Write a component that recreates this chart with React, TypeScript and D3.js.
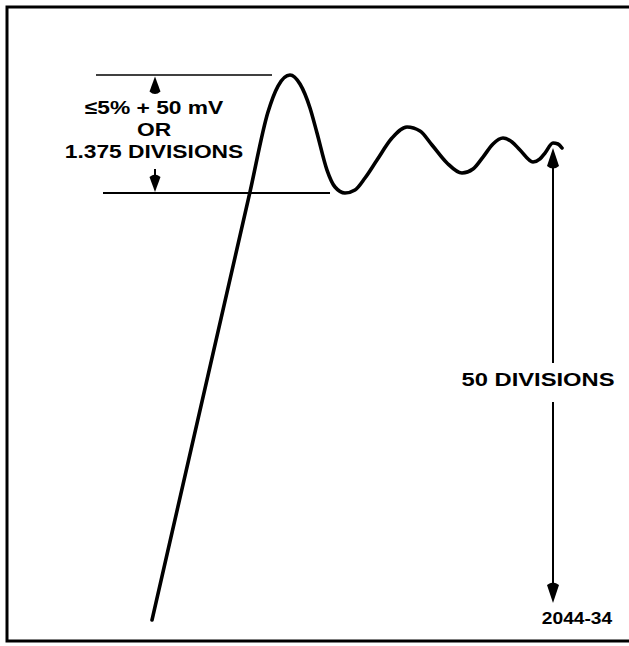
import React from 'react';
import * as d3 from 'd3';

// step response, time in arbitrary units, amplitude in divisions
const times = [0, 98, 116, 126, 138, 148, 158, 165, 175, 183, 193, 203, 213, 225, 240, 255, 268, 280, 295, 310, 321, 331, 341, 351, 360, 368, 381, 388, 393, 401, 406, 410];
const volts = [-1.64, 45.19, 53.94, 56.78, 57.99, 57.0, 54.38, 51.64, 47.59, 45.73, 45.08, 45.41, 46.72, 48.69, 51.09, 52.3, 51.86, 50.33, 48.36, 47.26, 47.7, 49.01, 50.44, 51.09, 50.66, 49.78, 48.47, 48.8, 49.45, 50.55, 50.44, 50.0];

const overshootLabel = ['≤5% + 50 mV', 'OR', '1.375 DIVISIONS'];
const amplitudeLabel = '50 DIVISIONS';
const figureId = '2044-34';

const W = 629;
const H = 646;
const font = '"Liberation Sans", Arial, Helvetica, sans-serif';

const x = d3.scaleLinear().domain([0, 410]).range([152, 562]);
const y = d3.scaleLinear().domain([0, 50]).range([605, 148]);

const pts = times.map((t, i) => [t, volts[i]] as [number, number]);
const wave = d3.line<[number, number]>()
  .x((d) => x(d[0]))
  .y((d) => y(d[1]))
  .curve(d3.curveMonotoneX)(pts);

// arrowhead, tip at (cx, tip), pointing up (dir=-1) or down (dir=1)
const head = (cx: number, tip: number, dir: number, len = 20, hw = 5.5) => {
  const b = tip - dir * len;
  return `M${cx},${tip} L${cx - hw},${b + dir * 3} Q${cx},${b - dir * 2} ${cx + hw},${b + dir * 3} Z`;
};

export default function App() {
  const peak = d3.max(volts) as number;
  const dip = d3.min(volts.slice(5)) as number;
  const yPeak = y(peak);
  const yDip = y(dip);
  const ax = 155;
  const rx = x(401);
  const finalY = y(50);
  const baseY = y(0);

  return (
    <svg width={W} height={H} style={{ position: 'absolute', left: 0, top: 0, background: '#fff' }}>
      {/* frame */}
      <path d={`M629,7 L7,7 L7,641 L629,641`} fill="none" stroke="#000" strokeWidth={3} />

      {/* overshoot reference lines */}
      <line x1={96} x2={272} y1={yPeak} y2={yPeak} stroke="#000" strokeWidth={1.6} />
      <line x1={103} x2={330} y1={yDip} y2={yDip} stroke="#000" strokeWidth={2} />
      <path d={head(ax, yPeak + 1.5, -1, 18, 5.5)} fill="#000" />
      <path d={head(ax, yDip - 1, 1, 18, 5.5)} fill="#000" />
      <line x1={ax} x2={ax} y1={yDip - 24} y2={yDip - 16} stroke="#000" strokeWidth={2} />

      {overshootLabel.map((s, i) => (
        <text
          key={i}
          transform={`translate(154,${114 + i * 22}) scale(1.2,1)`}
          textAnchor="middle"
          fontFamily={font}
          fontWeight="bold"
          fontSize={19}
        >
          {s}
        </text>
      ))}

      {/* waveform */}
      <path d={wave ?? ''} fill="none" stroke="#000" strokeWidth={3.6} strokeLinejoin="round" strokeLinecap="round" />

      {/* amplitude arrow */}
      <line x1={rx} x2={rx} y1={finalY + 15} y2={363} stroke="#000" strokeWidth={2} />
      <line x1={rx} x2={rx} y1={402} y2={baseY - 15} stroke="#000" strokeWidth={2} />
      <path d={head(rx, finalY, -1, 21, 6)} fill="#000" />
      <path d={head(rx, baseY - 2, 1, 21, 6)} fill="#000" />
      <text
        transform={`translate(538,386) scale(1.25,1)`}
        textAnchor="middle"
        fontFamily={font}
        fontWeight="bold"
        fontSize={19}
      >
        {amplitudeLabel}
      </text>

      <text
        transform={`translate(577,624) scale(1.2,1)`}
        textAnchor="middle"
        fontFamily={font}
        fontWeight="bold"
        fontSize={16}
      >
        {figureId}
      </text>
    </svg>
  );
}
